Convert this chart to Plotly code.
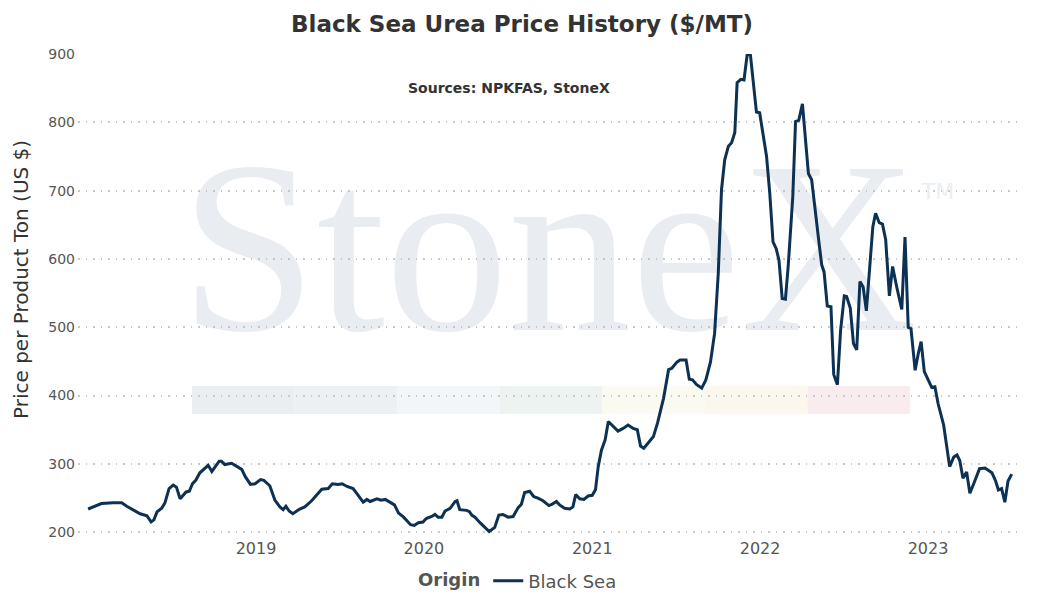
import pandas as pd
import plotly.graph_objects as go

# Black Sea urea, weekly-ish readings ($/MT)
dates = [
    "2018-01-01", "2018-01-12", "2018-01-19", "2018-01-30", "2018-02-25", "2018-03-15", "2018-03-26",
    "2018-04-09", "2018-04-24", "2018-05-09", "2018-05-18", "2018-05-24", "2018-05-31", "2018-06-10",
    "2018-06-17", "2018-06-26", "2018-07-05", "2018-07-12", "2018-07-20", "2018-08-02", "2018-08-09",
    "2018-08-16", "2018-08-23", "2018-09-01", "2018-09-12", "2018-09-19", "2018-09-27", "2018-10-05",
    "2018-10-13", "2018-10-18", "2018-10-25", "2018-11-09", "2018-11-20", "2018-12-01", "2018-12-09",
    "2018-12-20", "2018-12-30", "2019-01-11", "2019-01-18", "2019-01-31", "2019-02-11", "2019-02-22",
    "2019-03-01", "2019-03-07", "2019-03-14", "2019-03-22", "2019-04-06", "2019-04-17", "2019-05-02",
    "2019-05-13", "2019-05-24", "2019-06-07", "2019-06-16", "2019-06-29", "2019-07-07", "2019-07-18",
    "2019-07-31", "2019-08-08", "2019-08-22", "2019-08-30", "2019-09-06", "2019-09-21", "2019-09-30",
    "2019-10-09", "2019-10-20", "2019-10-29", "2019-11-07", "2019-11-18", "2019-12-03", "2019-12-11",
    "2019-12-20", "2019-12-30", "2020-01-06", "2020-01-18", "2020-01-25", "2020-02-01", "2020-02-09",
    "2020-02-16", "2020-02-27", "2020-03-09", "2020-03-13", "2020-03-19", "2020-04-03", "2020-04-09",
    "2020-04-14", "2020-04-21", "2020-05-02", "2020-05-13", "2020-05-22", "2020-06-03", "2020-06-12",
    "2020-06-21", "2020-07-02", "2020-07-13", "2020-07-24", "2020-07-31", "2020-08-07", "2020-08-18",
    "2020-08-27", "2020-09-05", "2020-09-16", "2020-09-29", "2020-10-06", "2020-10-15", "2020-10-22",
    "2020-11-02", "2020-11-13", "2020-11-20", "2020-11-26", "2020-12-05", "2020-12-14", "2020-12-23",
    "2021-01-01", "2021-01-08", "2021-01-14", "2021-01-21", "2021-01-29", "2021-02-05", "2021-02-16",
    "2021-02-26", "2021-03-09", "2021-03-20", "2021-03-31", "2021-04-09", "2021-04-16", "2021-04-23",
    "2021-05-03", "2021-05-14", "2021-05-23", "2021-05-29", "2021-06-05", "2021-06-16", "2021-06-23",
    "2021-07-04", "2021-07-11", "2021-07-24", "2021-07-31", "2021-08-07", "2021-08-16", "2021-08-27",
    "2021-09-05", "2021-09-15", "2021-09-24", "2021-10-02", "2021-10-09", "2021-10-16", "2021-10-24",
    "2021-10-31", "2021-11-07", "2021-11-12", "2021-11-20", "2021-11-27", "2021-12-04", "2021-12-11",
    "2021-12-17", "2021-12-24", "2021-12-31", "2022-01-07", "2022-01-15", "2022-01-22", "2022-01-29",
    "2022-02-05", "2022-02-11", "2022-02-18", "2022-02-25", "2022-03-03", "2022-03-13", "2022-03-19",
    "2022-03-26", "2022-04-03", "2022-04-08", "2022-04-16", "2022-04-23", "2022-04-30", "2022-05-10",
    "2022-05-15", "2022-05-20", "2022-05-27", "2022-06-04", "2022-06-10", "2022-06-18", "2022-06-25",
    "2022-07-03", "2022-07-08", "2022-07-16", "2022-07-23", "2022-07-30", "2022-08-06", "2022-08-13",
    "2022-08-20", "2022-08-27", "2022-09-03", "2022-09-09", "2022-09-17", "2022-09-24", "2022-10-01",
    "2022-10-09", "2022-10-16", "2022-10-25", "2022-11-05", "2022-11-12", "2022-11-19", "2022-11-25",
    "2022-12-04", "2022-12-11", "2022-12-17", "2022-12-24", "2023-01-01", "2023-01-09", "2023-01-16",
    "2023-01-23", "2023-02-04", "2023-02-17", "2023-02-26", "2023-03-05", "2023-03-11", "2023-03-18",
    "2023-03-26", "2023-04-02", "2023-04-11", "2023-04-23", "2023-05-05", "2023-05-20", "2023-05-28",
    "2023-06-03", "2023-06-10", "2023-06-17", "2023-06-24", "2023-07-02",
]
prices = [
    234, 237, 240, 242, 243, 243, 238,
    233, 227, 224, 215, 218, 230, 235,
    243, 264, 269, 266, 249, 259, 260,
    271, 276, 287, 293, 298, 289, 297,
    304, 304, 299, 301, 297, 292, 281,
    270, 271, 277, 276, 268, 247, 237,
    233, 238, 231, 227, 234, 237, 246,
    254, 263, 264, 271, 270, 271, 267,
    264, 257, 244, 248, 245, 249, 247,
    248, 244, 240, 228, 222, 211, 210,
    214, 215, 220, 223, 226, 222, 222,
    231, 235, 245, 246, 233, 232, 230,
    225, 222, 214, 206, 201, 207, 225,
    226, 222, 223, 236, 241, 258, 260,
    252, 250, 246, 239, 241, 245, 240,
    235, 234, 237, 255, 249, 248, 253,
    254, 262, 296, 320, 335, 362, 354,
    348, 352, 357, 352, 350, 326, 323,
    331, 340, 360, 379, 396, 438, 440,
    449, 452, 452, 424, 423, 416, 411,
    423, 449, 491, 579, 701, 745, 765,
    770, 785, 858, 863, 862, 900, 898,
    862, 815, 814, 784, 750, 696, 625,
    615, 598, 542, 541, 589, 691, 801,
    803, 827, 784, 725, 716, 672, 618,
    591, 581, 531, 530, 431, 416, 496,
    546, 545, 528, 476, 467, 567, 559,
    524, 584, 647, 667, 653, 651, 628,
    546, 589, 559, 526, 632, 500, 498,
    437, 462, 479, 435, 423, 412, 413,
    388, 357, 296, 310, 313, 305, 279,
    288, 257, 272, 293, 294, 287, 275,
    262, 264, 244, 275, 285,
]
series_name = "Black Sea"
year_ticks = ["2019", "2020", "2021", "2022", "2023"]

# page is drawn 8px in from the window corner (body margin), so size the figure to fill the rest
OFF = 8
W, H = 1037 - OFF, 601 - OFF
ML, MR, MT, MB = 78 - OFF, 17, 54 - OFF, 64
x_range = ["2017-12-10", "2023-07-20"]
y_range = [193, 900]
font = "DejaVu Sans, Verdana, sans-serif"
navy = "#0c3152"

# window pixel -> paper / container / data helpers, used for decorations only
pw, ph = W - ML - MR, H - MT - MB
def px_x(px):
    return (px - OFF - ML) / pw
def px_y(py):
    return (H - MB - (py - OFF)) / ph
def cx(px):
    return (px - OFF) / W
def cy(py):
    return 1 - (py - OFF) / H
x0, x1 = pd.Timestamp(x_range[0]), pd.Timestamp(x_range[1])
def px_date(px):
    return x0 + (x1 - x0) * px_x(px)
def px_val(py):
    return y_range[0] + (y_range[1] - y_range[0]) * px_y(py)

fig = go.Figure()

# faint StoneX watermark, drawn as a text trace so the price line sits above it
fig.add_trace(go.Scatter(
    x=[px_date(549), px_date(938)], y=[px_val(268), px_val(193)],
    mode="text", text=["StoneX", "TM"],
    textfont=dict(family=["Liberation Serif", "DejaVu Sans"], size=[246, 22],
                  color="rgba(175,190,205,0.27)"),
    textposition="middle center", showlegend=False, hoverinfo="skip",
))

fig.add_trace(go.Scatter(
    x=pd.to_datetime(dates), y=prices, mode="lines", name=series_name,
    line=dict(color=navy, width=3),
))

# coloured band of the logo
band_cols = ["#EBEEF1", "#EDF0F2", "#F2F6F9", "#EDF3F0", "#FAFAF0", "#FBF7EC", "#F8ECEE"]
bx0, bx1 = 192, 910
seg = (bx1 - bx0) / len(band_cols)
for i, c in enumerate(band_cols):
    fig.add_shape(type="rect", xref="paper", yref="paper",
                  x0=px_x(bx0 + i * seg), x1=px_x(bx0 + (i + 1) * seg),
                  y0=px_y(414), y1=px_y(386),
                  fillcolor=c, line_width=0, layer="below")

fig.update_layout(
    width=W, height=H,
    margin=dict(l=ML, r=MR, t=MT, b=MB, autoexpand=False),
    paper_bgcolor="white", plot_bgcolor="white",
    font=dict(family=font, color="#555555"),
    title=dict(text="<b>Black Sea Urea Price History ($/MT)</b>", x=px_x(522), xref="paper",
               xanchor="center", y=cy(24), yanchor="middle",
               font=dict(size=23, color="#333333")),
    xaxis=dict(range=x_range, tickvals=[pd.Timestamp(y + "-01-01") for y in year_ticks],
               ticktext=year_ticks, showgrid=False, zeroline=False, showline=False,
               tickfont=dict(size=16, color="#555555")),
    yaxis=dict(range=y_range, tickvals=list(range(200, 901, 100)), showgrid=True,
               gridcolor="#c8c8c8", griddash="1.5px,6px", gridwidth=1.5, zeroline=False,
               showline=False, tickfont=dict(size=14, color="#555555"), ticklabelstandoff=2),
    legend=dict(orientation="h", xref="container", yref="container", x=cx(519), xanchor="center",
                y=cy(581), yanchor="middle", font=dict(size=18, color="#555555"),
                title=dict(text="<b>Origin</b>", font=dict(size=18, color="#555555"))),
    annotations=[
        dict(text="<b>Sources: NPKFAS, StoneX</b>", xref="paper", yref="paper",
             x=px_x(509), y=px_y(88), xanchor="center", yanchor="middle", showarrow=False,
             font=dict(size=14, color="#333333")),
        dict(text="Price per Product Ton (US $)", xref="paper", yref="paper",
             x=px_x(21), y=px_y(280), xanchor="center", yanchor="middle", textangle=-90,
             showarrow=False, font=dict(size=20, color="#333333")),
    ],
)

fig.write_html("out.html")
